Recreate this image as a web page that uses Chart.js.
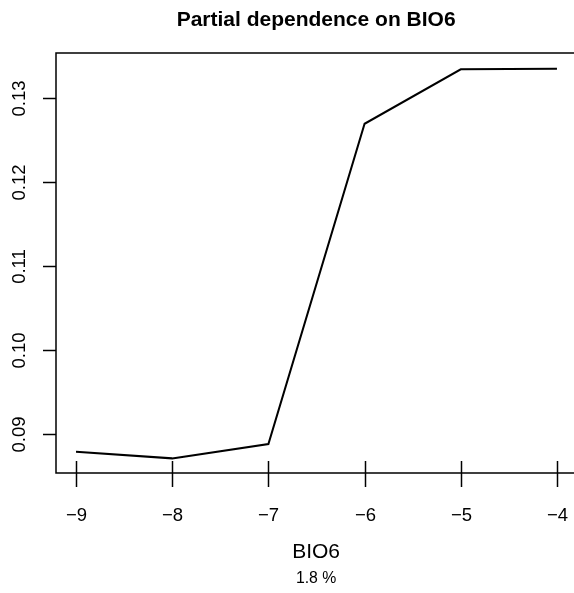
<!DOCTYPE html>
<html>
<head>
<meta charset="utf-8">
<script src="https://cdn.jsdelivr.net/npm/chart.js@4"></script>
<style>
  html, body { margin: 0; padding: 0; background: #fff; }
  #wrap { width: 574px; height: 593px; }
</style>
</head>
<body>
<div id="wrap"><canvas id="pd" width="574" height="593"></canvas></div>
<script>
const xValues = [-9, -8, -7, -6, -5, -4];
const yValues = [0.0879, 0.0871, 0.0888, 0.1269, 0.13338, 0.13345];
const xTicks = [-9, -8, -7, -6, -5, -4];
const xTickLabels = ["\u22129", "\u22128", "\u22127", "\u22126", "\u22125", "\u22124"];
const yTicks = [0.09, 0.10, 0.11, 0.12, 0.13];
const yTickLabels = ["0.09", "0.10", "0.11", "0.12", "0.13"];

const FONT = "'Liberation Sans', Arial, sans-serif";

// R-style axes: box on left/top/bottom, ticks and rotated y labels
const rAxes = {
  id: "rAxes",
  afterDraw(chart) {
    const ctx = chart.ctx;
    const a = chart.chartArea;
    const xs = chart.scales.x, ys = chart.scales.y;
    ctx.save();
    ctx.strokeStyle = "#000";
    ctx.lineWidth = 1.5;
    ctx.beginPath();
    ctx.moveTo(chart.width, a.top);
    ctx.lineTo(a.left, a.top);
    ctx.lineTo(a.left, a.bottom);
    ctx.lineTo(chart.width, a.bottom);
    ctx.stroke();

    ctx.fillStyle = "#000";
    ctx.font = "18.5px " + FONT;
    ctx.textAlign = "center";
    ctx.textBaseline = "alphabetic";
    xTicks.forEach((v, i) => {
      const px = Math.round(xs.getPixelForValue(v)) + 0.5;
      ctx.beginPath();
      ctx.moveTo(px, a.bottom - 12);
      ctx.lineTo(px, a.bottom + 14);
      ctx.stroke();
      ctx.fillText(xTickLabels[i], px, 521);
    });

    yTicks.forEach((v, i) => {
      const py = Math.round(ys.getPixelForValue(v)) + 0.5;
      ctx.beginPath();
      ctx.moveTo(a.left - 13, py);
      ctx.lineTo(a.left, py);
      ctx.stroke();
      ctx.save();
      ctx.translate(24.5, py);
      ctx.rotate(-Math.PI / 2);
      ctx.fillText(yTickLabels[i], 0, 0);
      ctx.restore();
    });

    const cx = (a.left + xs.getPixelForValue(-3.8)) / 2;
    ctx.font = "bold 21px " + FONT;
    ctx.fillText("Partial dependence on BIO6", cx, 26);
    ctx.font = "21px " + FONT;
    ctx.fillText("BIO6", cx, 558);
    ctx.font = "15.8px " + FONT;
    ctx.fillText("1.8 %", cx, 583);
    ctx.restore();
  }
};

new Chart(document.getElementById("pd"), {
  type: "line",
  data: {
    datasets: [{
      data: xValues.map((x, i) => ({ x: x, y: yValues[i] })),
      borderColor: "#000",
      borderWidth: 2,
      pointRadius: 0,
      tension: 0,
      fill: false
    }]
  },
  options: {
    responsive: false,
    animation: false,
    devicePixelRatio: 1,
    layout: { padding: { left: 56, top: 53, right: 0, bottom: 120 } },
    plugins: { legend: { display: false }, tooltip: { enabled: false }, title: { display: false } },
    scales: {
      x: { type: "linear", min: -9.208, max: -3.823, display: false },
      y: { type: "linear", min: 0.08536, max: 0.13532, display: false }
    }
  },
  plugins: [rAxes]
});
</script>
</body>
</html>
